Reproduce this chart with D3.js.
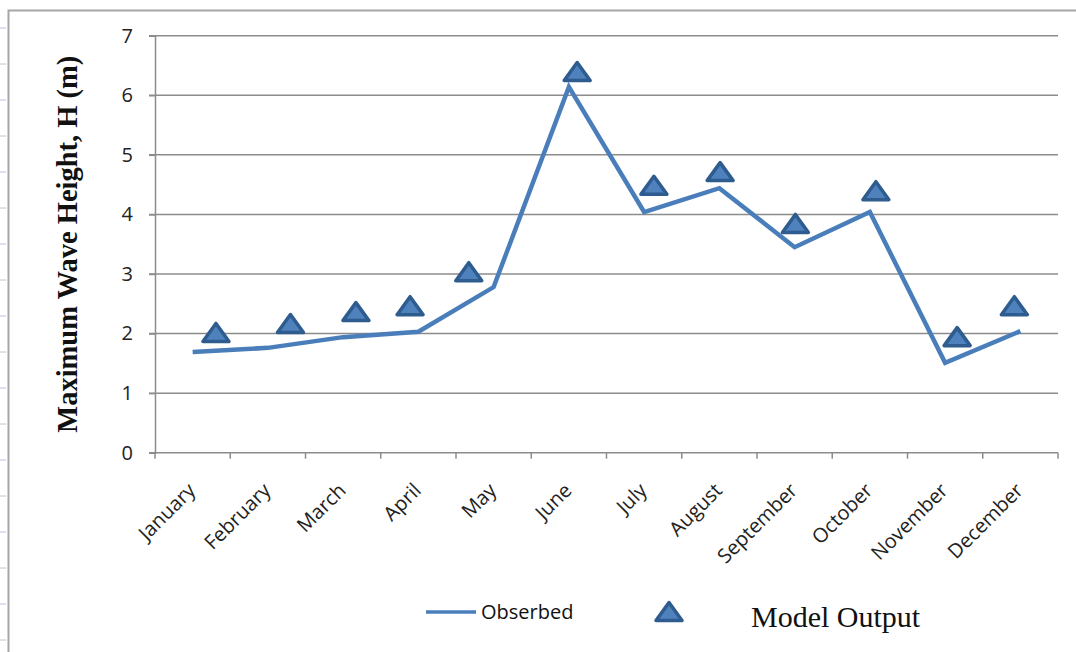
<!DOCTYPE html>
<html>
<head>
<meta charset="utf-8">
<script src="https://cdn.jsdelivr.net/npm/d3@7"></script>
<style>
  html, body { margin: 0; padding: 0; background: #fff; }
  .tick-label { font-family: "Open Sans", "Liberation Sans", sans-serif; font-size: 20px; fill: #222; }
</style>
</head>
<body>
<div id="chart"></div>
<script>
const months = ['January', 'February', 'March', 'April', 'May', 'June', 'July',
  'August', 'September', 'October', 'November', 'December'];
const observed = [1.69, 1.76, 1.94, 2.03, 2.78, 6.14, 4.04, 4.44, 3.45, 4.04, 1.51, 2.04];
const modelOutput = [2.01, 2.16, 2.36, 2.46, 3.03, 6.39, 4.48, 4.71, 3.84, 4.39, 1.94, 2.46];
// the model markers sit slightly off the month centres (in month units)
const modelMonthPos = [0.31, 1.30, 2.17, 2.89, 3.67, 5.11, 6.13, 7.01, 8.01, 9.08, 10.16, 10.92];
const yTicks = [0, 1, 2, 3, 4, 5, 6, 7];

const width = 1076, height = 652;
const plot = { left: 155, right: 1058, top: 35.7, bottom: 452.7 };

const svg = d3.select('#chart').append('svg')
  .attr('width', width)
  .attr('height', height);

// outer frame (top + left) with the little ruler marks on the left edge
svg.append('path')
  .attr('d', `M8.5 ${height} L8.5 10.5 L${width} 10.5`)
  .attr('fill', 'none')
  .attr('stroke', '#a6a6a6')
  .attr('stroke-width', 2);

svg.append('g').selectAll('line')
  .data(d3.range(28, height, 36))
  .enter().append('line')
  .attr('x1', 0).attr('x2', 6)
  .attr('y1', d => d).attr('y2', d => d)
  .attr('stroke', '#b8c4d6')
  .attr('stroke-width', 1);

const x = d3.scaleBand()
  .domain(months)
  .range([plot.left, plot.right]);

const xPos = d3.scaleLinear()
  .domain([-0.5, months.length - 0.5])
  .range([plot.left, plot.right]);

const y = d3.scaleLinear()
  .domain([0, 7])
  .range([plot.bottom, plot.top]);

// gridlines
svg.append('g').selectAll('line')
  .data(yTicks.filter(d => d > 0))
  .enter().append('line')
  .attr('x1', plot.left - 6).attr('x2', plot.right)
  .attr('y1', d => y(d)).attr('y2', d => y(d))
  .attr('stroke', '#8c8c8c')
  .attr('stroke-width', 1.5);

// y axis
const yAxis = svg.append('g')
  .attr('transform', `translate(${plot.left},0)`)
  .call(d3.axisLeft(y).tickValues(yTicks).tickSize(6).tickPadding(16).tickFormat(d3.format('d')));
yAxis.select('.domain').attr('stroke', '#8c8c8c').attr('stroke-width', 1.5);
yAxis.selectAll('.tick line').attr('stroke', '#8c8c8c').attr('stroke-width', 1.5);
yAxis.selectAll('.tick text').attr('class', 'tick-label');

// x axis, ticks on the category boundaries
const xAxisG = svg.append('g')
  .attr('transform', `translate(0,${plot.bottom})`);
xAxisG.append('line')
  .attr('x1', plot.left - 6).attr('x2', plot.right)
  .attr('stroke', '#8c8c8c').attr('stroke-width', 1.5);
xAxisG.selectAll('.xtick')
  .data(d3.range(months.length + 1))
  .enter().append('line')
  .attr('x1', d => plot.left + d * x.bandwidth())
  .attr('x2', d => plot.left + d * x.bandwidth())
  .attr('y1', 0).attr('y2', 6)
  .attr('stroke', '#8c8c8c').attr('stroke-width', 1.5);
xAxisG.selectAll('text')
  .data(months)
  .enter().append('text')
  .attr('class', 'tick-label')
  .attr('text-anchor', 'end')
  .attr('transform', d => `translate(${x(d) + x.bandwidth() / 2 + 4},${39}) rotate(-45)`)
  .text(d => d);

// observed line
const line = d3.line()
  .x((d, i) => x(months[i]) + x.bandwidth() / 2)
  .y(d => y(d));

svg.append('path')
  .datum(observed)
  .attr('d', line)
  .attr('fill', 'none')
  .attr('stroke', '#4a7ebb')
  .attr('stroke-width', 4.5)
  .attr('stroke-linejoin', 'miter');

// model output triangles (a bit wider than tall, like the spreadsheet marker)
const tri = 'M0,-9.5 L13,8.5 L-13,8.5 Z';
svg.append('g').selectAll('path')
  .data(modelOutput)
  .enter().append('path')
  .attr('d', tri)
  .attr('transform', (d, i) => `translate(${xPos(modelMonthPos[i])},${y(d)})`)
  .attr('fill', '#4f81bd')
  .attr('stroke', '#2f5c8f')
  .attr('stroke-width', 3.5)
  .attr('stroke-linejoin', 'round');

// y axis title
svg.append('text')
  .attr('transform', `translate(77,${(plot.top + plot.bottom) / 2}) rotate(-90)`)
  .attr('text-anchor', 'middle')
  .style('font-family', '"Liberation Serif", "Times New Roman", serif')
  .style('font-weight', 'bold')
  .style('font-size', '28.5px')
  .attr('fill', '#111')
  .text('Maximum Wave Height, H (m)');

// legend
const legend = svg.append('g');
legend.append('line')
  .attr('x1', 426).attr('x2', 476)
  .attr('y1', 612).attr('y2', 612)
  .attr('stroke', '#4a7ebb').attr('stroke-width', 3.5);
legend.append('text')
  .attr('x', 481).attr('y', 619)
  .style('font-family', '"Open Sans", "Liberation Sans", sans-serif')
  .style('font-size', '20px')
  .attr('fill', '#111')
  .text('Obserbed');
legend.append('path')
  .attr('d', tri)
  .attr('transform', 'translate(669,612)')
  .attr('fill', '#4f81bd')
  .attr('stroke', '#2f5c8f')
  .attr('stroke-width', 3.5)
  .attr('stroke-linejoin', 'round');
legend.append('text')
  .attr('x', 751).attr('y', 627)
  .style('font-family', '"Liberation Serif", "Times New Roman", serif')
  .style('font-size', '30px')
  .attr('fill', '#111')
  .text('Model Output');
</script>
</body>
</html>
